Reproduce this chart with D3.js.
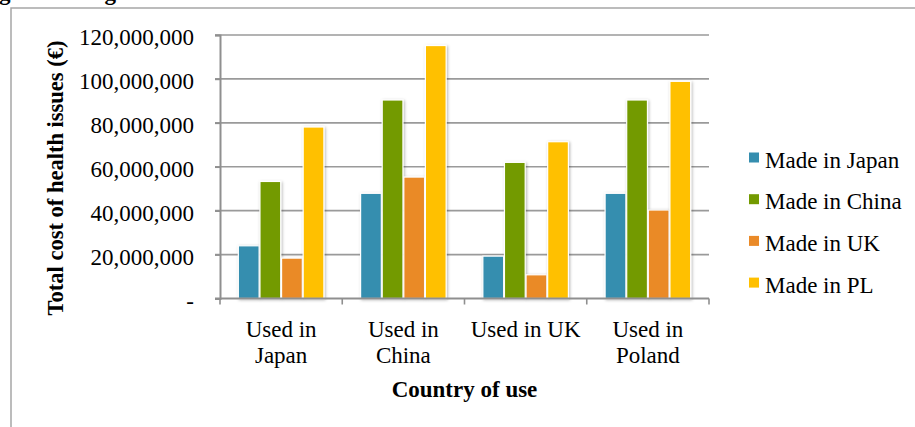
<!DOCTYPE html>
<html>
<head>
<meta charset="utf-8">
<script src="https://cdn.jsdelivr.net/npm/d3@7"></script>
<style>
  html, body { margin: 0; padding: 0; background: #fff; overflow: hidden; }
  svg { display: block; font-family: "Liberation Serif", "Times New Roman", serif; }
</style>
</head>
<body>
<svg id="chart" width="915" height="427"></svg>
<script>
// data
const categories = ['Used in Japan', 'Used in China', 'Used in UK', 'Used in Poland'];
const categoryLines = [['Used in', 'Japan'], ['Used in', 'China'], ['Used in UK'], ['Used in', 'Poland']];
const seriesNames = ['Made in Japan', 'Made in China', 'Made in UK', 'Made in PL'];
const madeInJapan = [24000000, 47900000, 19300000, 47900000];
const madeInChina = [53300000, 90400000, 62000000, 90400000];
const madeInUK = [18400000, 55300000, 10800000, 40300000];
const madeInPL = [78100000, 115200000, 71400000, 98900000];
const yTicks = [0, 20000000, 40000000, 60000000, 80000000, 100000000, 120000000];
const colors = ['#358eaf', '#739a00', '#ea8a28', '#ffc000'];

const seriesValues = [madeInJapan, madeInChina, madeInUK, madeInPL];

const svg = d3.select('#chart');
const plotLeft = 220, plotRight = 709, plotTop = 35, plotBottom = 298.5;
const fontSize = '23px';

// caption of the page above the chart, mostly cut off
svg.append('text')
  .attr('x', -1)
  .attr('y', 0)
  .style('font-size', fontSize)
  .style('font-weight', 'bold')
  .text('g and in Figure 3 below');

// chart area border
svg.append('rect')
  .attr('x', 11).attr('y', 8)
  .attr('width', 1000).attr('height', 500)
  .attr('fill', 'none')
  .attr('stroke', '#a6a6a6')
  .attr('stroke-width', 1.5);

const defs = svg.append('defs');
const shadow = defs.append('filter').attr('id', 'shadow')
  .attr('x', '-30%').attr('y', '-10%').attr('width', '160%').attr('height', '130%');
shadow.append('feDropShadow')
  .attr('dx', 1).attr('dy', 1).attr('stdDeviation', 1.5)
  .attr('flood-color', '#000').attr('flood-opacity', 0.3);

const y = d3.scaleLinear().domain([0, 120000000]).range([plotBottom, plotTop]);

const x0 = d3.scaleBand()
  .domain(categories)
  .range([plotLeft, plotRight])
  .paddingInner(0.286)
  .paddingOuter(0.143);

const x1 = d3.scaleBand()
  .domain(seriesNames)
  .range([0, x0.bandwidth()])
  .padding(0.04);

const color = d3.scaleOrdinal().domain(seriesNames).range(colors);

// gridlines
svg.append('g')
  .selectAll('line')
  .data(yTicks.slice(1))
  .enter()
  .append('line')
  .attr('x1', plotLeft - 5).attr('x2', plotRight)
  .attr('y1', (d) => y(d)).attr('y2', (d) => y(d))
  .attr('stroke', '#9a9a9a')
  .attr('stroke-width', 1.6);

// y axis
const yAxis = svg.append('g')
  .attr('transform', `translate(${plotLeft},0)`)
  .call(d3.axisLeft(y).tickValues(yTicks).tickSize(5).tickPadding(21)
    .tickFormat((d) => d === 0 ? '-' : d3.format(',')(d)));
yAxis.select('.domain').attr('stroke', '#8f8f8f').attr('stroke-width', 2);
yAxis.selectAll('.tick line').attr('stroke', '#8f8f8f').attr('stroke-width', 1.6);
yAxis.selectAll('.tick text')
  .attr('dy', '0.42em')
  .style('font-size', fontSize)
  .style('font-family', '"Liberation Serif", serif')
  .attr('fill', '#000');

// bars
const groups = svg.append('g')
  .selectAll('g')
  .data(categories)
  .enter()
  .append('g')
  .attr('transform', (d) => `translate(${x0(d)},0)`);

groups.selectAll('rect')
  .data((d, i) => seriesNames.map((s, j) => ({ series: s, value: seriesValues[j][i] })))
  .enter()
  .append('rect')
  .attr('x', (d) => x1(d.series))
  .attr('y', (d) => y(d.value))
  .attr('width', x1.bandwidth())
  .attr('height', (d) => plotBottom - y(d.value))
  .attr('fill', (d) => color(d.series))
  .attr('stroke', '#fff')
  .attr('stroke-width', 1.2)
  .attr('filter', 'url(#shadow)');

// x axis line and ticks at band edges
const edges = d3.range(categories.length + 1).map((i) => plotLeft + i * x0.step());
svg.append('line')
  .attr('x1', plotLeft - 5).attr('x2', plotRight)
  .attr('y1', plotBottom).attr('y2', plotBottom)
  .attr('stroke', '#8f8f8f')
  .attr('stroke-width', 2);
svg.append('g')
  .selectAll('line')
  .data(edges)
  .enter()
  .append('line')
  .attr('x1', (d) => d).attr('x2', (d) => d)
  .attr('y1', plotBottom).attr('y2', plotBottom + 6)
  .attr('stroke', '#8f8f8f')
  .attr('stroke-width', 1.6);

// category labels
const catLabels = svg.append('g')
  .selectAll('text')
  .data(categories)
  .enter()
  .append('text')
  .attr('x', (d) => x0(d) + x0.bandwidth() / 2)
  .attr('y', 337)
  .attr('text-anchor', 'middle')
  .style('font-size', fontSize);
catLabels.selectAll('tspan')
  .data((d, i) => categoryLines[i])
  .enter()
  .append('tspan')
  .attr('x', function () { return d3.select(this.parentNode).attr('x'); })
  .attr('dy', (d, i) => i === 0 ? 0 : 26)
  .text((d) => d);

// axis titles
svg.append('text')
  .attr('x', (plotLeft + plotRight) / 2)
  .attr('y', 397)
  .attr('text-anchor', 'middle')
  .style('font-size', fontSize)
  .style('font-weight', 'bold')
  .text('Country of use');

svg.append('text')
  .attr('transform', 'translate(63,178) rotate(-90)')
  .attr('text-anchor', 'middle')
  .style('font-size', '22.5px')
  .style('font-weight', 'bold')
  .text('Total cost of health issues (€)');

// legend
const legend = svg.append('g')
  .selectAll('g')
  .data(seriesNames)
  .enter()
  .append('g')
  .attr('transform', (d, i) => `translate(749,${152.5 + i * 41.7})`);
legend.append('rect')
  .attr('width', 10).attr('height', 10)
  .attr('fill', (d) => color(d));
legend.append('text')
  .attr('x', 16)
  .attr('y', 15)
  .style('font-size', fontSize)
  .text((d) => d);
</script>
</body>
</html>
